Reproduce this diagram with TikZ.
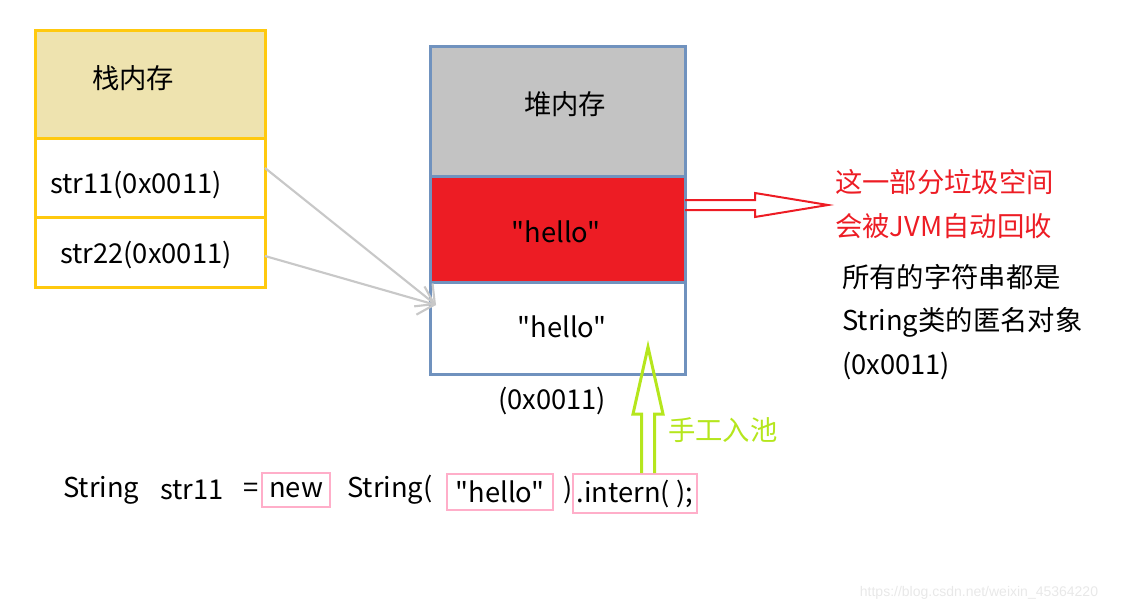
\documentclass[tikz,border=0pt]{standalone}
\usepackage{fontspec}
\setmainfont{Noto Sans CJK SC}[Ligatures=TeXOff]
\newfontfamily\wmfont{Liberation Sans}
\usetikzlibrary{positioning,calc,arrows.meta}

\definecolor{stackline}{HTML}{FFC90E}
\definecolor{stackfill}{HTML}{EEE3AF}
\definecolor{heapline}{HTML}{7092BE}
\definecolor{heapgray}{HTML}{C3C3C3}
\definecolor{gcred}{HTML}{ED1C24}
\definecolor{poolgreen}{HTML}{B5E61D}
\definecolor{codepink}{HTML}{FFAEC9}
\definecolor{refgray}{HTML}{C8C8C8}

\tikzset{
  every node/.style={font=\fontsize{20.5}{24}\selectfont},
  txt/.style={inner sep=0pt},
  stackcell/.style={draw=stackline, line width=2.25pt, minimum width=172.5pt, inner sep=0pt, outer sep=0pt},
  heapcell/.style={draw=heapline, line width=2.25pt, minimum width=191.25pt, inner sep=0pt, outer sep=0pt},
  codebox/.style={draw=codepink, line width=1.5pt, inner sep=0pt},
  refline/.style={refgray, line width=1.6pt, -{Straight Barb[length=11pt, width=22pt, line width=1.6pt]}},
}

\begin{document}
\begin{tikzpicture}[x=0.75pt, y=-0.75pt]
    \useasboundingbox (0,0) rectangle (1124,613);

    % Stack
    \node[stackcell, fill=stackfill, minimum height=81pt, anchor=north] (stkhead) at (150,31) {};
    \node[stackcell, minimum height=58.5pt, below=0pt of stkhead] (stk1) {};
    \node[stackcell, minimum height=52.5pt, below=0pt of stk1] (stk2) {};
    \node[txt] (stklbl) at (133,78) {栈内存};
    \node[txt, anchor=west] (s1lbl) at (50,185) {str11(0x0011)};
    \node[txt, anchor=west] (s2lbl) at (60,255) {str22(0x0011)};

    % Heap
    \node[heapcell, fill=heapgray, minimum height=97.5pt, anchor=north] (hphead) at (557.5,47) {};
    \node[heapcell, fill=gcred, minimum height=78.75pt, below=0pt of hphead] (hpred) {};
    \node[heapcell, minimum height=69pt, below=0pt of hpred] (hpstr) {};
    \node[txt] (hplbl) at (565,104) {堆内存};
    \node[txt] (oldstr) at (556,232) {"hello"};
    \node[txt] (poolstr) at (562,327) {"hello"};
    \node[txt] (addr) at (552,401) {(0x0011)};

    % References
    \coordinate (tip) at (436,305);
    \draw[refline] ($(stk1.east)+(0,-10)$) -- (tip);
    \draw[refline] ($(stk2.east)+(0,4)$) -- (tip);

    % Garbage
    \coordinate (gcfrom) at ($(hpred.east)+(0,-24.5)$);
    \draw[gcred, line width=1.5pt] ($(gcfrom)+(0,-5)$) -- ++(70,0) -- ++(0,-7)
        -- ($(gcfrom)+(143,0)$) -- ($(gcfrom)+(70,12)$) -- ++(0,-7) -- ($(gcfrom)+(0,5)$);
    \node[txt, anchor=west, text=gcred] (gc1) at (835,182) {这一部分垃圾空间};
    \node[txt, anchor=west, text=gcred] (gc2) at (835,226) {会被JVM自动回收};
    \node[txt, anchor=west] (note1) at (842,277) {所有的字符串都是};
    \node[txt, anchor=west] (note2) at (842,322) {String类的匿名对象};
    \node[txt, anchor=west] (note3) at (842,366) {(0x0011)};

    % Code
    \node[txt, anchor=west] (kwstr) at (63,490) {String};
    \node[txt, anchor=west] (varname) at (160,490) {str11};
    \node[txt, anchor=west] (eqsign) at (243,490) {=};
    \node[codebox, minimum width=51pt, minimum height=25.5pt] (newbox) at (296,490) {new};
    \node[txt, anchor=west] (ctor) at (347,490) {String(};
    \node[codebox, minimum width=79.5pt, minimum height=27pt] (litbox) at (500,492) {"hello"};
    \node[txt, anchor=west] (rparen) at (563,490) {)};
    \node[codebox, minimum width=93pt, minimum height=29.25pt] (internbox) at (635,493.5) {.intern( );};

    % Intern
    \coordinate (poolfoot) at ($(internbox.north)+(13,0)$);
    \draw[poolgreen, line width=2.25pt] ($(poolfoot)+(-6.5,0)$) -- ++(0,-59) -- ++(-8.5,0)
        -- ($(poolfoot)+(0,-126)$) -- ($(poolfoot)+(15,-59)$) -- ++(-8.5,0) -- ($(poolfoot)+(6.5,0)$);
    \node[txt, anchor=west, text=poolgreen] (poollbl) at (668,430) {手工入池};

    \node[txt, text=black!9, font=\wmfont\fontsize{10.5}{12}\selectfont] (wmark) at (979,593) {https://blog.csdn.net/weixin\_45364220};
\end{tikzpicture}
\end{document}
